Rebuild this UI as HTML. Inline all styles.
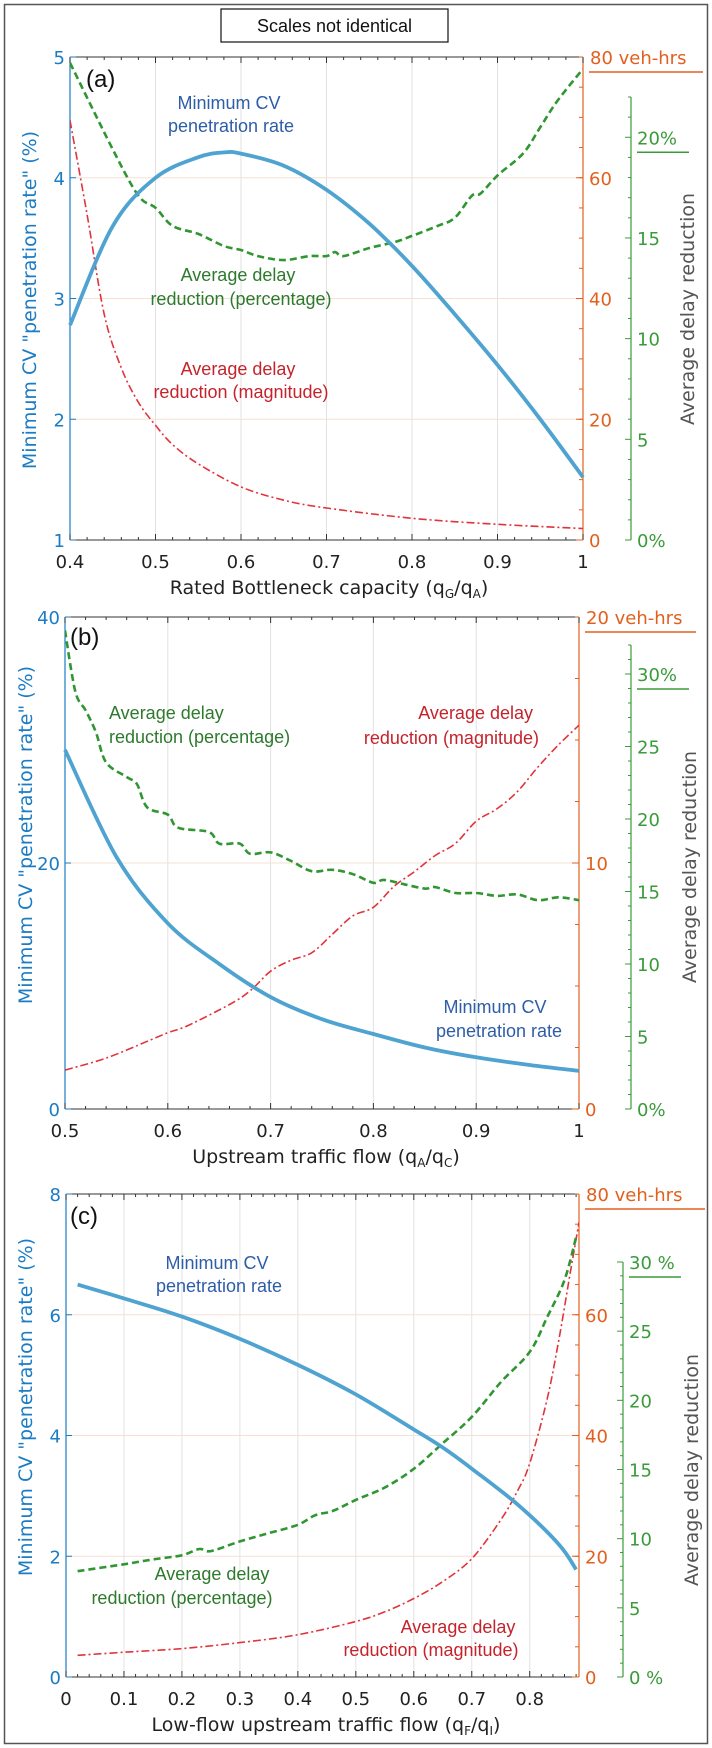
<!DOCTYPE html>
<html><head><meta charset="utf-8">
<style>
html,body{margin:0;padding:0;background:#fff;}
svg{display:block;font-family:"DejaVu Sans","Liberation Sans",sans-serif;}
.ann{font-family:"Liberation Sans Narrow","Liberation Sans",sans-serif;font-size:18px;}
</style></head>
<body>
<svg id="chart" width="712" height="1748" viewBox="0 0 712 1748" xmlns="http://www.w3.org/2000/svg">
<rect x="4.5" y="4.5" width="703" height="1739" fill="#fff" stroke="#555" stroke-width="1.5"/>
<rect x="221" y="9" width="227" height="33" fill="#fff" stroke="#111" stroke-width="1.2"/>
<text x="334.5" y="32" text-anchor="middle" font-family="Liberation Sans, sans-serif" font-size="18" fill="#111">Scales not identical</text>
<g id="panels"></g>
</svg>
<script>
// ---------- Panel (a) data ----------
const aBlueX = [0.4,0.45,0.5,0.55,0.58,0.6,0.65,0.7,0.75,0.8,0.85,0.9,0.95,1.0];
const aBlueY = [2.78,3.6,4.0,4.17,4.21,4.2,4.1,3.9,3.62,3.27,2.87,2.45,2.0,1.52];
const aGreenX = [0.4,0.45,0.48,0.5,0.52,0.55,0.58,0.6,0.62,0.65,0.68,0.7,0.71,0.72,0.75,0.78,0.8,0.83,0.85,0.87,0.88,0.9,0.93,0.95,0.97,1.0];
const aGreenY = [23.7,19.4,17.1,16.5,15.6,15.2,14.6,14.4,14.1,13.9,14.1,14.1,14.3,14.1,14.5,14.8,15.1,15.6,16.0,17.1,17.2,18.1,19.2,20.5,21.8,23.4];
const aRedX = [0.4,0.42,0.44,0.46,0.48,0.5,0.52,0.55,0.6,0.65,0.7,0.8,0.9,1.0];
const aRedY = [69.5,53.9,37.4,28.5,22.8,19,15.8,12.6,8.8,6.6,5.3,3.6,2.6,1.9];
const aXTicks = ["0.4","0.5","0.6","0.7","0.8","0.9","1"];
const aLTicks = ["1","2","3","4","5"];
const aRTicks = ["0","20","40","60"];
const aGTicks = ["0%","5","10","15","20%"];
// ---------- Panel (b) data ----------
const bBlueX = [0.5,0.55,0.6,0.65,0.7,0.75,0.8,0.85,0.9,0.95,1.0];
const bBlueY = [29.2,20.5,15.1,11.8,9.1,7.3,6.1,5.0,4.2,3.6,3.1];
const bGreenX = [0.5,0.51,0.52,0.53,0.54,0.56,0.57,0.58,0.6,0.61,0.64,0.65,0.67,0.68,0.7,0.72,0.74,0.76,0.78,0.8,0.81,0.83,0.85,0.86,0.88,0.9,0.92,0.94,0.96,0.98,1.0];
const bGreenY = [33,28.8,27.5,26,23.9,22.9,22.4,20.8,20.3,19.4,19.1,18.3,18.3,17.6,17.7,17.1,16.4,16.5,16.2,15.6,15.8,15.5,15.2,15.3,14.9,14.9,14.7,14.8,14.4,14.6,14.4];
const bRedX = [0.5,0.54,0.58,0.6,0.62,0.66,0.68,0.7,0.72,0.74,0.76,0.78,0.8,0.82,0.84,0.86,0.88,0.9,0.92,0.94,0.96,0.98,1.0];
const bRedY = [1.58,2.07,2.75,3.1,3.4,4.25,4.8,5.6,6.05,6.35,7.1,7.85,8.2,9.05,9.65,10.3,10.8,11.7,12.2,12.9,13.9,14.8,15.6];
const bXTicks = ["0.5","0.6","0.7","0.8","0.9","1"];
const bLTicks = ["0","20","40"];
const bRTicks = ["0","10"];
const bGTicks = ["0%","5","10","15","20","25","30%"];
// ---------- Panel (c) data ----------
const cBlueX = [0.02,0.1,0.2,0.3,0.4,0.5,0.6,0.65,0.7,0.78,0.85,0.88];
const cBlueY = [6.5,6.27,5.97,5.6,5.17,4.68,4.1,3.8,3.45,2.85,2.2,1.78];
const cGreenX = [0.02,0.1,0.15,0.2,0.23,0.25,0.3,0.35,0.4,0.43,0.46,0.5,0.55,0.6,0.65,0.7,0.75,0.8,0.83,0.86,0.88];
const cGreenY = [7.65,8.15,8.5,8.8,9.25,9.1,9.8,10.4,11.0,11.7,12.0,12.8,13.7,15.05,16.9,18.8,21.3,23.5,26,28.7,31.8];
const cRedX = [0.02,0.1,0.2,0.3,0.4,0.5,0.55,0.6,0.65,0.7,0.75,0.78,0.8,0.83,0.85,0.87,0.885];
const cRedY = [3.6,4.1,4.7,5.7,7.0,9.2,10.8,13,15.8,19.6,26,31,35.4,46,55.7,67,75.3];
const cXTicks = ["0","0.1","0.2","0.3","0.4","0.5","0.6","0.7","0.8"];
const cLTicks = ["0","2","4","6","8"];
const cRTicks = ["0","20","40","60"];
const cGTicks = ["0 %","5","10","15","20","25","30 %"];

const NS = "http://www.w3.org/2000/svg";
const root = document.getElementById('panels');
function mk(tag, attrs, parent, txt){
  const e = document.createElementNS(NS, tag);
  for (const k in attrs) e.setAttribute(k, attrs[k]);
  if (txt !== undefined) e.textContent = txt;
  (parent||root).appendChild(e);
  return e;
}
const BLUE="#1b7cc4", ORANGE="#e2601e", GREEN="#3a9b3a", GRAY="#555";

function smoothPath(pts){
  let d = 'M' + pts[0][0].toFixed(1) + ',' + pts[0][1].toFixed(1);
  for (let i = 0; i < pts.length - 1; i++){
    const p0 = pts[Math.max(0,i-1)], p1 = pts[i], p2 = pts[i+1], p3 = pts[Math.min(pts.length-1,i+2)];
    const c1x = p1[0] + (p2[0]-p0[0])/6, c1y = p1[1] + (p2[1]-p0[1])/6;
    const c2x = p2[0] - (p3[0]-p1[0])/6, c2y = p2[1] - (p3[1]-p1[1])/6;
    d += 'C' + c1x.toFixed(1)+','+c1y.toFixed(1)+' '+c2x.toFixed(1)+','+c2y.toFixed(1)+' '+p2[0].toFixed(1)+','+p2[1].toFixed(1);
  }
  return d;
}

function panel(p){
  const g = mk('g', {});
  
  
  const sx = v => p.L + (v - p.xmin) / (p.xmax - p.xmin) * (p.R - p.L);
  const syL = v => p.B - (v - p.lmin) / (p.lmax - p.lmin) * (p.B - p.T);
  const syR = v => p.B - v / p.rmax * (p.B - p.T);
  const syG = v => p.B - v / p.gmax * (p.B - p.gTop);
  p.xt.forEach(t => { const x = sx(parseFloat(t));
    if (x > p.L+1 && x < p.R-1){ const l = mk('line',{x1:x,x2:x,y1:p.T,y2:p.B,stroke:"#e2e2e2","stroke-width":1},g);
        } });
  p.lt.forEach(t => { const y = syL(parseFloat(t));
    if (y > p.T+1 && y < p.B-1){ const l = mk('line',{x1:p.L,x2:p.R,y1:y,y2:y,stroke:"#f6e0d6","stroke-width":1},g);
        } });
  const ax = mk('line',{x1:p.L,x2:p.R,y1:p.T,y2:p.T,stroke:"#333","stroke-width":1},g);
   
  const bx = mk('line',{x1:p.L,x2:p.R,y1:p.B,y2:p.B,stroke:"#333","stroke-width":1},g);
   
  const la = mk('line',{x1:p.L,x2:p.L,y1:p.T,y2:p.B,stroke:BLUE,"stroke-width":1.2},g);
   
  const ra = mk('line',{x1:p.R,x2:p.R,y1:p.T,y2:p.B,stroke:ORANGE,"stroke-width":1.2},g);
   
  const ga = mk('line',{x1:p.G,x2:p.G,y1:p.gTop,y2:p.B,stroke:GREEN,"stroke-width":1.2},g);
   
  const step = parseFloat(p.xt[1]) - parseFloat(p.xt[0]);
  for (let v = p.xmin; v <= p.xmax + 1e-9; v += step/5){
    const x = sx(v); const r = (v - parseFloat(p.xt[0]))/step; const major = Math.abs(r - Math.round(r)) < 1e-6;
    const len = major ? 6 : 3;
    mk('line',{x1:x,x2:x,y1:p.B,y2:p.B-len,stroke:"#333","stroke-width":1},g);
    mk('line',{x1:x,x2:x,y1:p.T,y2:p.T+len,stroke:"#333","stroke-width":1},g);
  }
  p.xt.forEach(t => { const x = sx(parseFloat(t));
    const e = mk('text',{x:x,y:p.B+28,"text-anchor":"middle","font-size":18,fill:"#222"},g,t);
      });
  p.lt.forEach(t => { const y = syL(parseFloat(t));
    mk('line',{x1:p.L,x2:p.L+6,y1:y,y2:y,stroke:BLUE,"stroke-width":1},g);
    const e = mk('text',{x:p.L-5,y:y+7,"text-anchor":"end","font-size":18,fill:BLUE},g,t);
      });
  const rstep = parseFloat(p.rt[1]) - parseFloat(p.rt[0]);
  for (let v = 0; v <= p.rmax + 1e-9; v += rstep/4){
    const y = syR(v); mk('line',{x1:p.R,x2:p.R-4,y1:y,y2:y,stroke:ORANGE,"stroke-width":1},g);
  }
  p.rt.forEach(t => { const y = syR(parseFloat(t));
    mk('line',{x1:p.R,x2:p.R-7,y1:y,y2:y,stroke:ORANGE,"stroke-width":1},g);
    const e = mk('text',{x:p.R+6,y:y+7,"font-size":18,fill:ORANGE},g,t);
      });
  const rtop = mk('text',{x:p.R+7,y:p.T+7,"font-size":18,fill:ORANGE},g,p.rTopLabel);
   
  mk('line',{x1:p.R+6,x2:p.uEnd,y1:p.T+15,y2:p.T+15,stroke:ORANGE,"stroke-width":1.5},g);
  for (let v = 0; v <= p.gmax + 1e-9; v += 1){
    const y = syG(v); const major = v % 5 === 0;
    mk('line',{x1:p.G,x2:p.G-(major?6:3),y1:y,y2:y,stroke:GREEN,"stroke-width":1},g);
  }
  p.gt.forEach((t,i) => { const y = syG(i*5);
    const e = mk('text',{x:p.G+6,y:y+7,"font-size":18,fill:GREEN},g,t);
     
    if (i === p.gt.length-1) mk('line',{x1:p.G+6,x2:p.G+58,y1:y+15,y2:y+15,stroke:GREEN,"stroke-width":1.5},g);
  });
  const xt = mk('text',{x:p.xtX,y:p.B+54,"text-anchor":"middle","font-size":19,fill:"#222"},g);
   
  xt.innerHTML = p.xTitle;
  const lt = mk('text',{transform:`translate(${p.ltX},${p.ltY}) rotate(-90)`,"text-anchor":"middle","font-size":19,fill:BLUE},g,'Minimum CV "penetration rate" (%)');
   
  const rt = mk('text',{transform:`translate(${p.rtX},${p.rtY}) rotate(-90)`,"text-anchor":"middle","font-size":19,fill:GRAY},g,'Average delay reduction');
   
  const pts = (xs, ys, sy) => xs.map((v,i)=>[sx(v), sy(ys[i])]);
  const clip = mk('clipPath',{id:'clip'+p.id},g);
  mk('rect',{x:p.L,y:p.T-20,width:p.R-p.L,height:p.B-p.T+20},clip);
  const red = mk('path',{d:smoothPath(pts(p.redX,p.redY,syR)),fill:"none",stroke:"#e2333a","stroke-width":1.6,"stroke-dasharray":"8,3,2,3","clip-path":`url(#clip${p.id})`},g);
   
  const grn = mk('path',{d:smoothPath(pts(p.greenX,p.greenY,syG)),fill:"none",stroke:"#2f9632","stroke-width":2.6,"stroke-dasharray":"7,4","clip-path":`url(#clip${p.id})`},g);
   
  const blu = mk('path',{d:smoothPath(pts(p.blueX,p.blueY,syL)),fill:"none",stroke:"#4ea3d0","stroke-width":3.8,"stroke-linejoin":"round"},g);
   
  p.ann.forEach(a => {
    const e = mk('text',{x:a[0],y:a[1],"text-anchor":a[3],class:"ann",fill:a[4]},g,a[2]);
     
  });
  const pl = mk('text',{x:p.plX,y:p.plY,"font-family":"Liberation Sans, sans-serif","font-size":24,fill:"#111"},g,'('+p.id+')');
   
}
const CB="#2e5da8", CG="#2d7a2d", CR="#c5232b";
panel({id:'a',L:70,R:583,T:57,B:540,xmin:0.4,xmax:1,lmin:1,lmax:5,rmax:80,G:631,gTop:97,gmax:22,
  xt:aXTicks,lt:aLTicks,rt:aRTicks,gt:aGTicks,rTopLabel:'80 veh-hrs',uEnd:703,
  blueX:aBlueX,blueY:aBlueY,greenX:aGreenX,greenY:aGreenY,redX:aRedX,redY:aRedY,
  xTitle:'Rated Bottleneck capacity (q<tspan font-size="12" dy="4">G</tspan><tspan dy="-4">/q</tspan><tspan font-size="12" dy="4">A</tspan><tspan dy="-4">)</tspan>',xtX:329,
  ltX:36,ltY:300,rtX:694,rtY:309,plX:86,plY:87,
  ann:[[229,109,'Minimum CV','middle',CB],[231,132,'penetration rate','middle',CB],
       [238,281,'Average delay','middle',CG],[241,305,'reduction (percentage)','middle',CG],
       [238,375,'Average delay','middle',CR],[241,398,'reduction (magnitude)','middle',CR]]});
panel({id:'b',L:65,R:579,T:617,B:1109,xmin:0.5,xmax:1,lmin:0,lmax:40,rmax:20,G:631,gTop:645,gmax:32,
  xt:bXTicks,lt:bLTicks,rt:bRTicks,gt:bGTicks,rTopLabel:'20 veh-hrs',uEnd:696,
  blueX:bBlueX,blueY:bBlueY,greenX:bGreenX,greenY:bGreenY,redX:bRedX,redY:bRedY,
  xTitle:'Upstream traffic flow (q<tspan font-size="12" dy="4">A</tspan><tspan dy="-4">/q</tspan><tspan font-size="12" dy="4">C</tspan><tspan dy="-4">)</tspan>',xtX:326,
  ltX:32,ltY:835,rtX:696,rtY:867,plX:70,plY:645,
  ann:[[109,719,'Average delay','start',CG],[109,743,'reduction (percentage)','start',CG],
       [533,719,'Average delay','end',CR],[539,744,'reduction (magnitude)','end',CR],
       [495,1013,'Minimum CV','middle',CB],[499,1037,'penetration rate','middle',CB]]});
panel({id:'c',L:66,R:579,T:1194,B:1677,xmin:0,xmax:0.885,lmin:0,lmax:8,rmax:80,G:623,gTop:1262,gmax:30,
  xt:cXTicks,lt:cLTicks,rt:cRTicks,gt:cGTicks,rTopLabel:'80 veh-hrs',uEnd:705,
  blueX:cBlueX,blueY:cBlueY,greenX:cGreenX,greenY:cGreenY,redX:cRedX,redY:cRedY,
  xTitle:'Low-flow upstream traffic flow (q<tspan font-size="12" dy="4">F</tspan><tspan dy="-4">/q</tspan><tspan font-size="12" dy="4">I</tspan><tspan dy="-4">)</tspan>',xtX:326,
  ltX:32,ltY:1407,rtX:698,rtY:1470,plX:70,plY:1224,
  ann:[[217,1269,'Minimum CV','middle',CB],[219,1292,'penetration rate','middle',CB],
       [212,1580,'Average delay','middle',CG],[182,1604,'reduction (percentage)','middle',CG],
       [458,1633,'Average delay','middle',CR],[431,1656,'reduction (magnitude)','middle',CR]]});
</script>
</body></html>
